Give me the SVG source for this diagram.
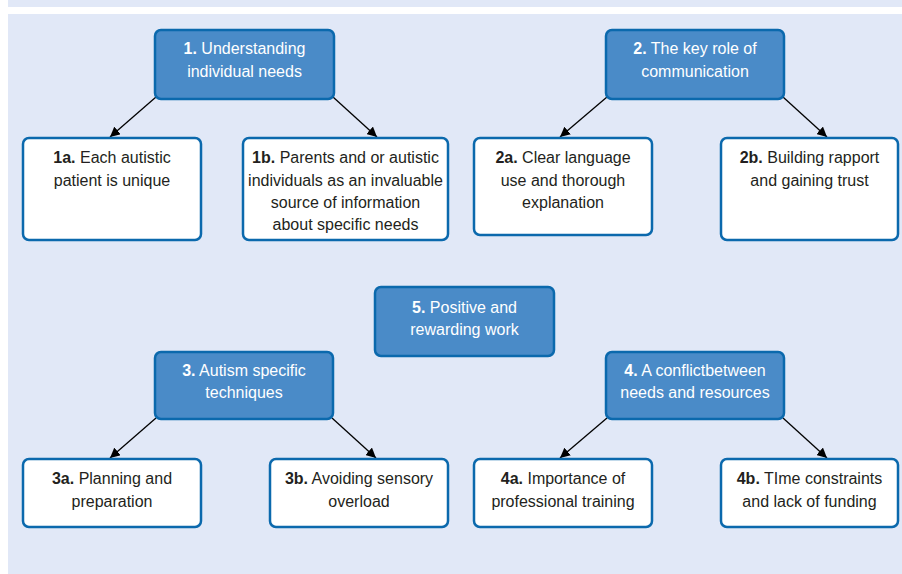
<svg xmlns="http://www.w3.org/2000/svg" width="902" height="574" viewBox="0 0 902 574">
<defs>
<style>
.bg{fill:#e1e8f7}
.hd{fill:#4a8bc8;stroke:#0b69ad;stroke-width:2.5}
.sb{fill:#ffffff;stroke:#0b69ad;stroke-width:2.5}
text{font-family:"Liberation Sans",Arial,sans-serif;font-size:16px;text-anchor:middle}
.wt{fill:#ffffff}
.dk{fill:#231f20}
.b{font-weight:bold}
.cn{stroke:#000;stroke-width:1.3;fill:none;marker-end:url(#ah)}
</style>
<marker id="ah" viewBox="0 0 10 10" refX="10" refY="5" markerWidth="10" markerHeight="10" markerUnits="userSpaceOnUse" orient="auto">
<path d="M0,0 L10,5 L0,10 z" fill="#000"/>
</marker>
</defs>
<rect class="bg" x="8" y="0" width="894" height="7"/>
<rect class="bg" x="8" y="14" width="894" height="560"/>
<g id="connectors">
<line class="cn" x1="156" y1="97" x2="110" y2="137"/>
<line class="cn" x1="333" y1="97" x2="377" y2="137"/>
<line class="cn" x1="607" y1="97" x2="560" y2="137"/>
<line class="cn" x1="783" y1="97" x2="827" y2="137"/>
<line class="cn" x1="156" y1="418" x2="110" y2="458"/>
<line class="cn" x1="332" y1="418" x2="376" y2="458"/>
<line class="cn" x1="607" y1="418" x2="560" y2="458"/>
<line class="cn" x1="783" y1="418" x2="827" y2="458"/>
</g>
<g id="n1"><rect class="hd" x="155" y="30" width="179" height="69" rx="6"/>
<text class="wt" x="244.5" y="54"><tspan class="b">1.</tspan> Understanding</text>
<text class="wt" x="244.5" y="77">individual needs</text></g>
<g id="n2"><rect class="hd" x="606" y="30" width="178" height="69" rx="6"/>
<text class="wt" x="695" y="54"><tspan class="b">2.</tspan> The key role of</text>
<text class="wt" x="695" y="77">communication</text></g>
<g id="n1a"><rect class="sb" x="23" y="138" width="178" height="102" rx="6"/>
<text class="dk" x="112" y="163"><tspan class="b">1a.</tspan> Each autistic</text>
<text class="dk" x="112" y="186">patient is unique</text></g>
<g id="n1b"><rect class="sb" x="243" y="138" width="205" height="102" rx="6"/>
<text class="dk" x="345.5" y="163"><tspan class="b">1b.</tspan> Parents and or autistic</text>
<text class="dk" x="345.5" y="186">individuals as an invaluable</text>
<text class="dk" x="345.5" y="208">source of information</text>
<text class="dk" x="345.5" y="230">about specific needs</text></g>
<g id="n2a"><rect class="sb" x="474" y="138" width="178" height="97" rx="6"/>
<text class="dk" x="563" y="163"><tspan class="b">2a.</tspan> Clear language</text>
<text class="dk" x="563" y="186">use and thorough</text>
<text class="dk" x="563" y="208">explanation</text></g>
<g id="n2b"><rect class="sb" x="721" y="138" width="177" height="102" rx="6"/>
<text class="dk" x="809.5" y="163"><tspan class="b">2b.</tspan> Building rapport</text>
<text class="dk" x="809.5" y="186">and gaining trust</text></g>
<g id="n5"><rect class="hd" x="375" y="287" width="179" height="69" rx="6"/>
<text class="wt" x="464.5" y="313"><tspan class="b">5.</tspan> Positive and</text>
<text class="wt" x="464.5" y="335">rewarding work</text></g>
<g id="n3"><rect class="hd" x="155" y="352" width="178" height="67" rx="6"/>
<text class="wt" x="244" y="376"><tspan class="b">3.</tspan> Autism specific</text>
<text class="wt" x="244" y="398">techniques</text></g>
<g id="n4"><rect class="hd" x="606" y="352" width="178" height="67" rx="6"/>
<text class="wt" x="695" y="376"><tspan class="b">4.</tspan> A conflictbetween</text>
<text class="wt" x="695" y="398">needs and resources</text></g>
<g id="n3a"><rect class="sb" x="23" y="459" width="178" height="68" rx="6"/>
<text class="dk" x="112" y="484"><tspan class="b">3a.</tspan> Planning and</text>
<text class="dk" x="112" y="507">preparation</text></g>
<g id="n3b"><rect class="sb" x="270" y="459" width="178" height="68" rx="6"/>
<text class="dk" x="359" y="484"><tspan class="b">3b.</tspan> Avoiding sensory</text>
<text class="dk" x="359" y="507">overload</text></g>
<g id="n4a"><rect class="sb" x="474" y="459" width="178" height="68" rx="6"/>
<text class="dk" x="563" y="484"><tspan class="b">4a.</tspan> Importance of</text>
<text class="dk" x="563" y="507">professional training</text></g>
<g id="n4b"><rect class="sb" x="721" y="459" width="177" height="68" rx="6"/>
<text class="dk" x="809.5" y="484"><tspan class="b">4b.</tspan> TIme constraints</text>
<text class="dk" x="809.5" y="507">and lack of funding</text></g>
</svg>
